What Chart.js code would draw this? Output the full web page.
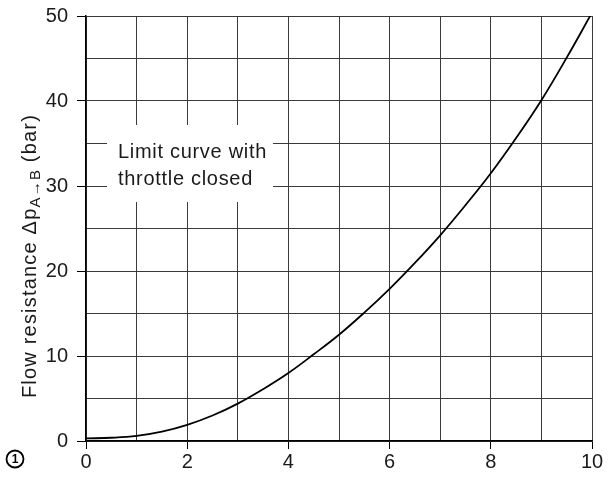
<!DOCTYPE html>
<html>
<head>
<meta charset="utf-8">
<script src="https://cdn.jsdelivr.net/npm/chart.js@4.4.0/dist/chart.umd.min.js"></script>
<style>
  body { margin: 0; background: #fff; }
  .chart-box { width: 615px; height: 477px; position: relative; }
</style>
</head>
<body>
<div class="chart-box"><canvas id="flowChart"></canvas></div>
<script>
// x in the flow unit, y in bar
const flowX = [0, 0.5, 1, 1.5, 2, 2.5, 3, 3.5, 4, 4.5, 5, 5.5, 6, 6.5, 7, 7.5, 8, 8.5, 9, 9.5, 10];
const resistance = [0.3, 0.38, 0.6, 1.1, 1.9, 3.0, 4.4, 6.1, 8.0, 10.2, 12.5, 15.1, 17.9, 20.95, 24.2, 27.75, 31.5, 35.65, 40.1, 45.1, 50.4];
const xTicks = [0, 2, 4, 6, 8, 10];
const yTicks = [0, 10, 20, 30, 40, 50];
const noteLines = ["Limit curve with", "throttle closed"];

const fontFamily = "'Liberation Sans', Arial, sans-serif";
const ink = "#1a1a1a";

const points = flowX.map((x, i) => ({ x: x, y: resistance[i] }));

const extras = {
  id: "extras",
  beforeDatasetsDraw(chart) {
    const ctx = chart.ctx;
    ctx.save();
    // white label box over the grid
    ctx.fillStyle = "#fff";
    ctx.fillRect(107, 125, 166, 77);
    ctx.fillStyle = ink;
    ctx.font = "20px " + fontFamily;
    ctx.letterSpacing = "0.7px";
    ctx.textBaseline = "alphabetic";
    ctx.textAlign = "left";
    ctx.fillText(noteLines[0], 118, 158);
    ctx.fillText(noteLines[1], 118, 185);
    ctx.restore();
  },
  afterDraw(chart) {
    const ctx = chart.ctx;
    ctx.save();
    // y axis title with subscript
    ctx.translate(30, 256);
    ctx.rotate(-Math.PI / 2);
    ctx.fillStyle = ink;
    ctx.textBaseline = "middle";
    ctx.letterSpacing = "1.2px";
    const main = "Flow resistance \u0394p";
    const sub = "A\u2192B";
    const tail = " (bar)";
    ctx.font = "20px " + fontFamily;
    const w1 = ctx.measureText(main).width;
    const w3 = ctx.measureText(tail).width;
    ctx.font = "15px " + fontFamily;
    const w2 = ctx.measureText(sub).width;
    let x = -(w1 + w2 + w3) / 2;
    ctx.font = "20px " + fontFamily;
    ctx.fillText(main, x, 0);
    x += w1;
    ctx.font = "15px " + fontFamily;
    ctx.fillText(sub, x, 6);
    x += w2;
    ctx.font = "20px " + fontFamily;
    ctx.fillText(tail, x, 0);
    ctx.restore();

    // circled 1 at lower left
    ctx.save();
    ctx.strokeStyle = "#000";
    ctx.lineWidth = 1.8;
    ctx.beginPath();
    ctx.arc(15, 459, 8.5, 0, Math.PI * 2);
    ctx.stroke();
    ctx.fillStyle = "#000";
    ctx.font = "bold 12px " + fontFamily;
    ctx.textAlign = "center";
    ctx.textBaseline = "middle";
    ctx.fillText("1", 15, 459.5);
    ctx.restore();
  },
};

new Chart(document.getElementById("flowChart").getContext("2d"), {
  type: "line",
  data: {
    datasets: [
      {
        data: points,
        borderColor: "#000",
        borderWidth: 1.8,
        pointRadius: 0,
        fill: false,
        clip: 0,
        tension: 0.4,
      },
    ],
  },
  options: {
    responsive: true,
    maintainAspectRatio: false,
    animation: false,
    layout: { padding: { top: 16, right: 23, left: 0, bottom: 0 } },
    plugins: {
      legend: { display: false },
      tooltip: { enabled: false },
    },
    scales: {
      x: {
        type: "linear",
        min: 0,
        max: 10,
        afterFit: (scale) => { scale.height = 36; },
        border: { color: "#000", width: 1.5 },
        grid: {
          color: "#3a3a3a",
          lineWidth: 1,
          tickLength: 8,
          tickColor: (c) => (c.tick && xTicks.includes(c.tick.value) ? "#000" : "rgba(0,0,0,0)"),
        },
        ticks: {
          stepSize: 1,
          padding: 1,
          color: ink,
          font: { family: fontFamily, size: 20 },
          callback: (v) => (xTicks.includes(v) ? String(v) : ""),
        },
      },
      y: {
        type: "linear",
        min: 0,
        max: 50,
        afterFit: (scale) => {
          scale.width = 86;
          scale.paddingTop = 0;
          scale.paddingBottom = 0;
        },
        border: { color: "#000", width: 1.5 },
        grid: {
          color: "#3a3a3a",
          lineWidth: 1,
          tickLength: 9,
          tickColor: (c) => (c.tick && yTicks.includes(c.tick.value) ? "#000" : "rgba(0,0,0,0)"),
        },
        ticks: {
          stepSize: 5,
          padding: 9,
          color: ink,
          font: { family: fontFamily, size: 20 },
          callback: (v) => (yTicks.includes(v) ? String(v) : ""),
        },
      },
    },
  },
  plugins: [extras],
});
</script>
</body>
</html>
